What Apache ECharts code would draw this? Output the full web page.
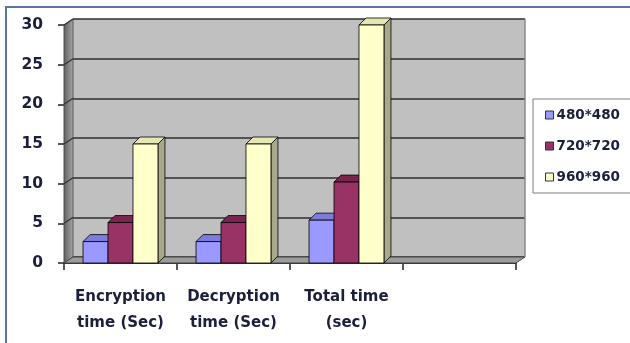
<!DOCTYPE html>
<html>
<head>
<meta charset="utf-8">
<script src="https://cdn.jsdelivr.net/npm/echarts@6/dist/echarts.min.js"></script>
<style>
  html, body { margin: 0; padding: 0; background: #ffffff; }
  #chart { width: 630px; height: 343px; }
</style>
</head>
<body>
<div id="chart"></div>
<script>
// Timing results per image size
const categories = ['Encryption\ntime (Sec)', 'Decryption\ntime (Sec)', 'Total time\n(sec)', ''];
const seriesNames = ['480*480', '720*720', '960*960'];
const values480 = [2.7, 2.7, 5.4];
const values720 = [5.1, 5.1, 10.2];
const values960 = [15, 15, 30];
const yTicks = [0, 5, 10, 15, 20, 25, 30];

// Face colours of the 3D columns: front, top, side
const palette = [
  { front: '#9999ff', top: '#7c7cdc', side: '#6a6ac0' },
  { front: '#993366', top: '#7a2450', side: '#6a1f45' },
  { front: '#ffffcc', top: '#e6e6b4', side: '#a8a88a' }
];

// Plot geometry: front plane and the back wall, offset for the depth effect
const FRONT = { left: 64, top: 25, width: 452, height: 238 };
const DEPTH_X = 9, DEPTH_Y = -6;
const BACK = { left: FRONT.left + DEPTH_X, top: FRONT.top + DEPTH_Y, width: FRONT.width, height: FRONT.height };
const BAR_FRAC = 0.221;           // column width as a share of the category band
const BAR_DX = 7, BAR_DY = -7;    // column depth

const textColor = '#1c1f3c';
const fontFamily = 'DejaVu Sans';

function columnRenderer(seriesIdx) {
  return function (params, api) {
    const cat = api.value(0);
    const val = api.value(1);
    const base = api.coord([cat, 0]);
    const top = api.coord([cat, val]);
    const band = api.size([1, 0])[0];
    const w = band * BAR_FRAC;
    const x0 = base[0] - 1.5 * w + seriesIdx * w;
    const x1 = x0 + w;
    const ty = top[1], by = base[1];
    const c = palette[seriesIdx];
    const stroke = { stroke: '#000', lineWidth: 0.8 };
    return {
      type: 'group',
      children: [
        {
          type: 'polygon',
          shape: { points: [[x1, ty], [x1 + BAR_DX, ty + BAR_DY], [x1 + BAR_DX, by + BAR_DY], [x1, by]] },
          style: Object.assign({ fill: c.side }, stroke)
        },
        {
          type: 'polygon',
          shape: { points: [[x0, ty], [x0 + BAR_DX, ty + BAR_DY], [x1 + BAR_DX, ty + BAR_DY], [x1, ty]] },
          style: Object.assign({ fill: c.top }, stroke)
        },
        {
          type: 'rect',
          shape: { x: x0, y: ty, width: w, height: by - ty },
          style: Object.assign({ fill: c.front }, stroke)
        }
      ]
    };
  };
}

function toPoints(vals) {
  return vals.map((v, i) => [i, v]);
}

const seriesData = [values480, values720, values960];

const chart = echarts.init(document.getElementById('chart'), null, { renderer: 'canvas' });

const option = {
  animation: false,
  backgroundColor: '#ffffff',
  grid: [
    // back wall
    Object.assign({ show: true, backgroundColor: '#c0c0c0', borderWidth: 0, containLabel: false }, BACK),
    // front plane with the visible axes
    Object.assign({ show: false, containLabel: false }, FRONT)
  ],
  xAxis: [
    { type: 'category', gridIndex: 0, data: categories, show: false },
    {
      type: 'category', gridIndex: 1, data: categories,
      axisLine: { show: true, lineStyle: { color: '#333', width: 1 } },
      axisTick: { show: true, alignWithLabel: false, length: 7, lineStyle: { color: '#222', width: 1.5 } },
      axisLabel: {
        interval: 0, margin: 21, color: textColor, fontFamily: fontFamily,
        fontWeight: 'bold', fontSize: 15, lineHeight: 26
      },
      splitLine: { show: false }
    }
  ],
  yAxis: [
    {
      type: 'value', gridIndex: 0, min: 0, max: 30, interval: 5,
      axisLine: { show: false }, axisTick: { show: false }, axisLabel: { show: false },
      splitLine: { show: true, lineStyle: { color: '#2e2e2e', width: 1.6 } }
    },
    {
      type: 'value', gridIndex: 1, min: 0, max: 30, interval: 5,
      axisLine: { show: true, lineStyle: { color: '#333', width: 1.2 } },
      axisTick: { show: true, length: 6, lineStyle: { color: '#222', width: 1.5 } },
      axisLabel: {
        margin: 21, color: textColor, fontFamily: fontFamily,
        fontWeight: 'bold', fontSize: 15.5
      },
      splitLine: { show: false }
    }
  ],
  legend: {
    orient: 'vertical',
    left: 533, top: 99,
    padding: [9, 20, 9, 12],
    itemGap: 17,
    itemWidth: 8, itemHeight: 8,
    icon: 'rect',
    borderColor: '#7f7f7f', borderWidth: 1,
    backgroundColor: '#ffffff',
    itemStyle: { borderColor: '#333', borderWidth: 1 },
    textStyle: { color: textColor, fontFamily: fontFamily, fontWeight: 'bold', fontSize: 13.5, padding: [0, 0, 0, -2] },
    data: seriesNames
  },
  series: seriesNames.map((name, i) => ({
    name: name,
    type: 'custom',
    xAxisIndex: 1, yAxisIndex: 1,
    z: 5,
    clip: false,
    itemStyle: { color: palette[i].front },
    encode: { x: 0, y: 1 },
    data: toPoints(seriesData[i]),
    renderItem: columnRenderer(i)
  }))
};

chart.setOption(option);

// Side wall, floor and frame, placed from the axes' own pixel mapping
const fy = v => chart.convertToPixel({ yAxisIndex: 1 }, v);
const byv = v => chart.convertToPixel({ yAxisIndex: 0 }, v);
const fl = FRONT.left, bl = BACK.left;
const fr = FRONT.left + FRONT.width, br = BACK.left + BACK.width;
const f0 = fy(0), b0 = byv(0), fTop = fy(30), bTop = byv(30);

const wallLines = yTicks.slice(1).map(v => ({
  type: 'line', z: 2,
  shape: { x1: fl, y1: fy(v), x2: bl, y2: byv(v) },
  style: { stroke: '#333', lineWidth: 1.3 }
}));

chart.setOption({
  graphic: [
    {
      type: 'polygon', z: 1,
      shape: { points: [[fl, fTop], [bl, bTop], [bl, b0], [fl, f0]] },
      style: {
        fill: new echarts.graphic.LinearGradient(0, 0, 1, 0, [
          { offset: 0, color: '#5e5e5e' }, { offset: 1, color: '#a9a9a9' }
        ]),
        stroke: '#444', lineWidth: 0.8
      }
    },
    {
      type: 'polygon', z: 1,
      shape: { points: [[fl, f0], [bl, b0], [br, b0], [fr, f0]] },
      style: { fill: '#9c9c9c', stroke: '#444', lineWidth: 1 }
    },
    {
      type: 'line', z: 2,
      shape: { x1: br, y1: bTop, x2: br, y2: b0 },
      style: { stroke: '#8a8a8a', lineWidth: 1.5 }
    },
    ...wallLines,
    {
      type: 'polyline', z: 10,
      shape: { points: [[6, 343], [6, 7], [630, 7]] },
      style: { stroke: '#5677a8', lineWidth: 2, fill: null }
    }
  ]
});
</script>
</body>
</html>
